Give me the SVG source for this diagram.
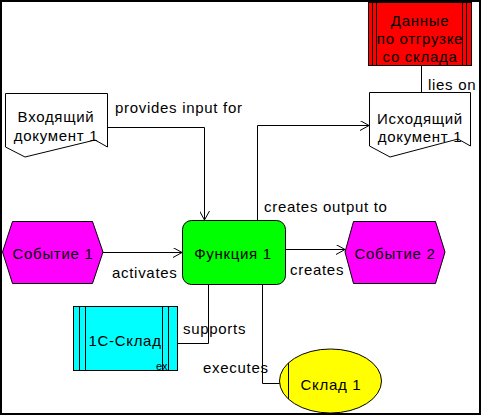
<svg xmlns="http://www.w3.org/2000/svg" width="482" height="416" viewBox="0 0 482 416">
<style>
text{font-family:"Liberation Sans",Arial,sans-serif;font-size:15px;fill:#000;letter-spacing:0.7px}
.c{text-anchor:middle}
.s{fill:none;stroke:#000;stroke-width:1}
.n{stroke:#000;stroke-width:1}
</style>
<defs>
<marker id="a" viewBox="0 0 10 10" refX="9" refY="5" markerWidth="10" markerHeight="10" markerUnits="userSpaceOnUse" orient="auto">
<path d="M0,0 L9,5 L0,10" fill="none" stroke="#000" stroke-width="1"/>
</marker>
</defs>
<rect x="0" y="0" width="482" height="416" fill="#fff"/>
<path d="M1,414 V1 H480 V414 Z" fill="none" stroke="#000" stroke-width="2"/>
<g id="connectors">
<path class="s" d="M421.5,65 V92"/>
<path class="s" d="M107,127.5 H204.5 V220" marker-end="url(#a)"/>
<path class="s" d="M257.5,220 V125.5 H369" marker-end="url(#a)"/>
<path class="s" d="M103,252.5 H182" marker-end="url(#a)"/>
<path class="s" d="M285,249.5 H345" marker-end="url(#a)"/>
<path class="s" d="M177,343.5 H208.5 V285"/>
<path class="s" d="M262.5,285 V383.5 H280"/>
<text x="428" y="90">lies on</text>
<text x="115" y="113">provides input for</text>
<text x="264" y="212">creates output to</text>
<text x="112" y="278">activates</text>
<text x="290" y="275">creates</text>
<text x="183" y="334">supports</text>
<text x="203" y="373">executes</text>
</g>
<g id="daten">
<rect class="n" x="368.5" y="2.5" width="103" height="63" fill="#ff0000"/>
<path class="s" d="M372.5,3 V65 M376.5,3 V65 M462.5,3 V65 M466.5,3 V65"/>
<text class="c" x="420" y="26">Данные</text>
<text class="c" x="420" y="44">по отгрузке</text>
<text class="c" x="420" y="62">со склада</text>
</g>
<g id="vhod">
<path class="n" d="M5.5,93.5 H107.5 V147 L95,140 L25,157 L5.5,147 Z" fill="#fff"/>
<text class="c" x="56" y="122">Входящий</text>
<text class="c" x="56" y="141">документ 1</text>
</g>
<g id="ishod">
<path class="n" d="M369.5,92.5 H470.5 V146 L458,139 L390,157 L369.5,146 Z" fill="#fff"/>
<text class="c" x="420" y="124">Исходящий</text>
<text class="c" x="420" y="142">документ 1</text>
</g>
<g id="funktsiya">
<rect class="n" x="182.5" y="220.5" width="103" height="64" rx="9" fill="#00ff00"/>
<text class="c" x="233" y="259">Функция 1</text>
</g>
<g id="sobytie1">
<polygon class="n" points="2.5,252 12.5,221.5 92.5,221.5 103,252 92.5,283.5 12.5,283.5" fill="#ff00ff"/>
<text class="c" x="53" y="259">Событие 1</text>
</g>
<g id="sobytie2">
<polygon class="n" points="345,252 353.5,221.5 435.5,221.5 445,252 435.5,283.5 353.5,283.5" fill="#ff00ff"/>
<text class="c" x="395" y="259">Событие 2</text>
</g>
<g id="sklad1c">
<rect class="n" x="73.5" y="306.5" width="104" height="64" fill="#00ffff"/>
<path class="s" d="M79.5,307 V370 M85.5,307 V370 M162.5,307 V370 M168.5,307 V370"/>
<text class="c" x="125" y="346">1С-Склад</text>
<text x="156" y="370" style="font-size:11px;letter-spacing:0">ex</text>
</g>
<g id="sklad1">
<ellipse class="n" cx="330.5" cy="381" rx="51" ry="32" fill="#ffff00"/>
<path class="s" d="M288.5,363 V399"/>
<text class="c" x="331" y="390">Склад 1</text>
</g>
</svg>
